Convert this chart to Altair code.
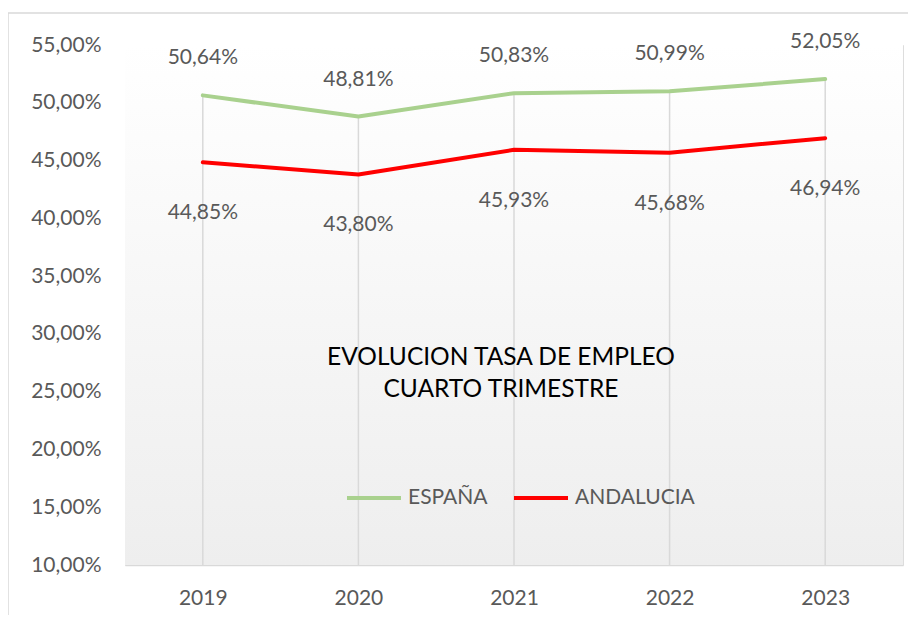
import altair as alt
import pandas as pd

years = ["2019", "2020", "2021", "2022", "2023"]
espana = [50.64, 48.81, 50.83, 50.99, 52.05]
andalucia = [44.85, 43.80, 45.93, 45.68, 46.94]
series_names = ["ESPAÑA", "ANDALUCIA"]
series_colors = ["#A9D18E", "#FF0000"]
y_ticks = [10, 15, 20, 25, 30, 35, 40, 45, 50, 55]
title_lines = ["EVOLUCION TASA DE EMPLEO", "CUARTO TRIMESTRE"]

W, H = 778, 520
FONT = "Lato"
GREY = "#595959"

rows = []
for i, y in enumerate(years):
    rows.append({"year": y, "serie": series_names[0], "value": espana[i]})
    rows.append({"year": y, "serie": series_names[1], "value": andalucia[i]})
long_df = pd.DataFrame(rows)
wide_df = pd.DataFrame({"year": years, "espana": espana, "andalucia": andalucia})

xscale = alt.Scale(type="point", padding=0.5, domain=years)
yscale = alt.Scale(domain=[10, 55], nice=False, zero=False)

x_enc = alt.X("year:N", scale=xscale, sort=years,
              axis=alt.Axis(title=None, ticks=False, labelAngle=0, labelPadding=22,
                            domainColor="#d9d9d9", domainWidth=1.5,
                            labelFont=FONT, labelFontSize=21, labelColor=GREY, grid=False))
y_axis = alt.Axis(title=None, values=y_ticks, ticks=False, domain=False, grid=False,
                  labelPadding=24, labelFont=FONT, labelFontSize=21, labelColor=GREY,
                  labelExpr="replace(format(datum.value, '.2f'), '.', ',') + '%'")

bg = alt.Chart(alt.Data(values=[{"a": 1}])).mark_rect(
    fill={"gradient": "linear", "x1": 0, "y1": 0, "x2": 0, "y2": 1,
          "stops": [{"offset": 0, "color": "#ffffff"}, {"offset": 1, "color": "#eeeeee"}]}
).encode(x=alt.value(0), x2=alt.value(W), y=alt.value(0), y2=alt.value(H))

border = alt.Chart(alt.Data(values=[{"a": 1}])).mark_rect(
    filled=False, stroke="#d9d9d9", strokeWidth=1.5
).encode(x=alt.value(-117), x2=alt.value(W + 30), y=alt.value(-32), y2=alt.value(H + 100))

drops = alt.Chart(wide_df).mark_rule(color="#d9d9d9", strokeWidth=1.5).encode(
    x=x_enc,
    y=alt.Y("espana:Q", scale=yscale, axis=y_axis),
    y2=alt.datum(10),
)

lines = alt.Chart(long_df).mark_line(strokeWidth=4, strokeCap="round", strokeJoin="round").encode(
    x=x_enc,
    y=alt.Y("value:Q", scale=yscale, axis=y_axis),
    color=alt.Color("serie:N", scale=alt.Scale(domain=series_names, range=series_colors),
                    sort=series_names,
                    legend=alt.Legend(title=None, orient="none", direction="horizontal",
                                      legendX=220, legendY=424, symbolType="stroke",
                                      symbolSize=2916, symbolStrokeWidth=4,
                                      labelFont=FONT, labelFontSize=21, labelColor=GREY,
                                      labelOffset=5, columnPadding=18)),
    detail="serie:N",
)

lab_fmt = "replace(format(datum.value, '.2f'), '.', ',') + '%'"

lab_es = alt.Chart(long_df).transform_filter(alt.datum.serie == "ESPAÑA").transform_calculate(
    lab=lab_fmt).mark_text(font=FONT, fontSize=21, color=GREY, dy=-37).encode(
    x=x_enc, y=alt.Y("value:Q", scale=yscale, axis=y_axis), text="lab:N")

lab_an = alt.Chart(long_df).transform_filter(alt.datum.serie == "ANDALUCIA").transform_calculate(
    lab=lab_fmt).mark_text(font=FONT, fontSize=21, color=GREY, dy=51).encode(
    x=x_enc, y=alt.Y("value:Q", scale=yscale, axis=y_axis), text="lab:N")

title = alt.Chart(alt.Data(values=[{"a": 1}])).mark_text(
    font=FONT, fontSize=24.5, color="#000000", align="center", baseline="middle", lineHeight=32
).encode(x=alt.value(376), y=alt.value(313), text=alt.value(title_lines))

chart = alt.layer(bg, border, drops, lines, lab_es, lab_an, title).properties(
    width=W, height=H,
    autosize=alt.AutoSizeParams(type="none"),
    padding={"left": 117, "top": 37, "right": 5, "bottom": 50},
).configure_view(stroke=None).configure(background="white")

chart.save("out.html", embed_options={"renderer": "svg", "actions": False})
